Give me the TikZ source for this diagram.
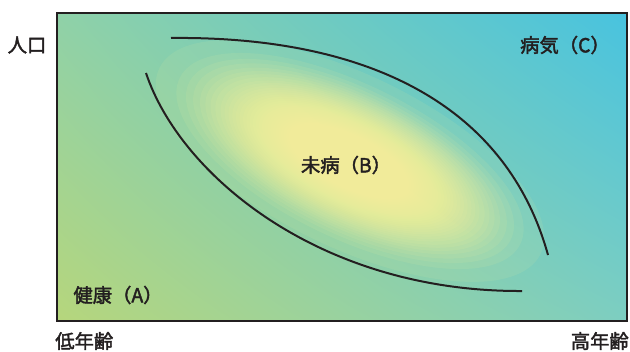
\documentclass[tikz,border=0pt]{standalone}
\usepackage{fontspec}
\usetikzlibrary{shadings}
\setmainfont{Noto Sans CJK JP}
\newfontfamily\lblfont{Noto Sans CJK JP}[FakeBold=2]
\definecolor{bgLL}{HTML}{B6D67C}
\definecolor{bgUR}{HTML}{48C3DF}
\definecolor{bgUL}{HTML}{8FD1A8}
\definecolor{bgLR}{HTML}{7DCEC1}
\definecolor{glowc}{HTML}{FCF69A}
\definecolor{inkc}{HTML}{231F20}
\tikzset{
  frameline/.style={draw=inkc, line width=1.6pt},
  curveline/.style={draw=inkc, line width=1.5pt},
  lbl/.style={text=inkc, font=\lblfont\fontsize{14.5}{16}\selectfont, inner sep=0pt}
}
\begin{document}
\begin{tikzpicture}[x=0.75pt,y=0.75pt]
\useasboundingbox (0,0) rectangle (630,351);
\shade[upper left=bgUL, upper right=bgUR, lower left=bgLL, lower right=bgLR] (57,30) rectangle (627,338);
\foreach \i in {0,...,59}{
  \pgfmathsetmacro\s{1-(\i/60)^(0.55)}
  \fill[glowc, opacity=0.09] (350,190) ellipse [x radius={212*\s}, y radius={86*\s}, rotate=-26];
}
\draw[frameline] (57,30) rectangle (627,338);
\draw[curveline] (171,313) .. controls (360,315) and (505,251) .. (548,96);
\draw[curveline] (146,278) .. controls (180,176) and (320,59) .. (522,60);
\node[lbl] (pop) at (27,306) {人口};
\node[lbl] (ill) at (565,306) {病気（C）};
\node[lbl] (mibyo) at (346,186) {未病（B）};
\node[lbl] (health) at (118,56) {健康（A）};
\node[lbl, anchor=west] (young) at (55,10) {低年齢};
\node[lbl, anchor=east] (old) at (629,10) {高年齢};
\end{tikzpicture}
\end{document}
